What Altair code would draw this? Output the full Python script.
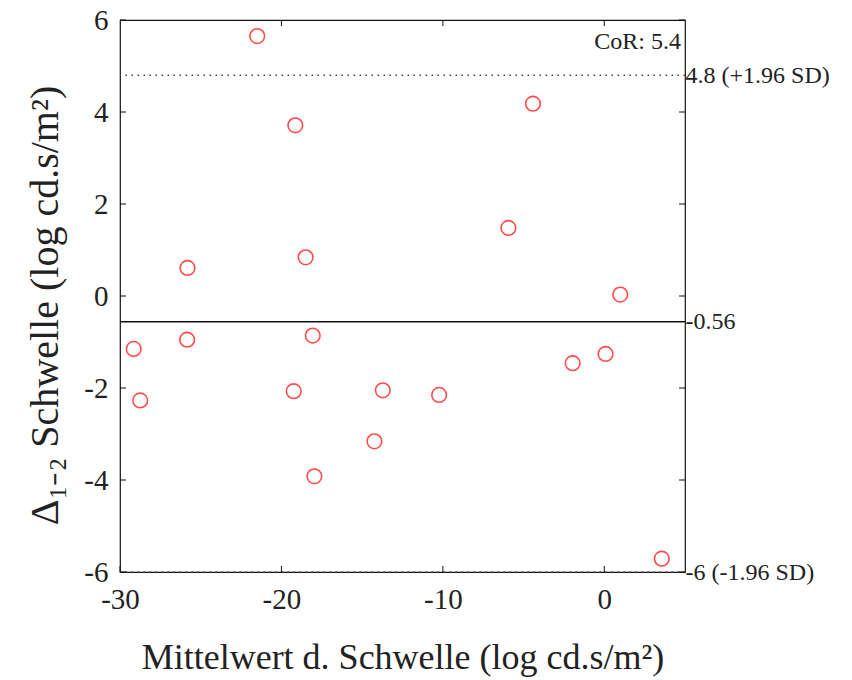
import altair as alt
import pandas as pd

# ---- data ----
mean_x = [-21.5, -19.14, -4.42, -5.94, -25.82, -18.5, 0.99, -29.15, -25.84, -18.06,
          -28.75, -19.24, -13.72, -10.23, -14.24, -17.96, -1.96, 0.08, 3.56]
diff_y = [5.65, 3.71, 4.18, 1.48, 0.61, 0.84, 0.03, -1.15, -0.95, -0.86,
          -2.27, -2.07, -2.05, -2.15, -3.16, -3.92, -1.46, -1.26, -5.71]
mean_diff = [-0.56]
loa_values = [4.8, -6.0]
right_ticks = [4.8, -0.56, -6.0]
right_labels = ["4.8 (+1.96 SD)", "-0.56", "-6 (-1.96 SD)"]
x_ticks = [-30, -20, -10, 0]
x_top_ticks = [-20, -10, 0]
y_ticks = [-6, -4, -2, 0, 2, 4, 6]
x_domain = [-30, 5]
y_domain = [-6, 6]
cor_label = ["CoR: 5.4"]
x_title = "Mittelwert d. Schwelle (log cd.s/m²)"
y_title = "Δ₁₋₂ Schwelle (log cd.s/m²)"

W, H = 565, 552
FONT = "'Liberation Serif', 'Times New Roman', serif"
TXT = "#222222"

pts = pd.DataFrame({"x": mean_x, "y": diff_y})
mean_df = pd.DataFrame({"y": mean_diff})
loa_df = pd.DataFrame({"y": loa_values})
right_df = pd.DataFrame({"y": right_ticks})
xt_df = pd.DataFrame({"x": x_ticks})
xtt_df = pd.DataFrame({"x": x_top_ticks})
yt_df = pd.DataFrame({"y": y_ticks})
cor_df = pd.DataFrame({"x": [x_domain[1]], "y": [y_domain[1]], "t": cor_label})

xs = alt.Scale(domain=x_domain, nice=False, zero=False)
ys = alt.Scale(domain=y_domain, nice=False, zero=False)

label_expr = " : ".join(
    f"abs(datum.value - ({v})) < 1e-6 ? '{l}'" for v, l in zip(right_ticks, right_labels)
) + " : ''"

points = alt.Chart(pts).mark_point(
    shape="circle", filled=False, color="#ff0000", size=215, strokeWidth=1.6
).encode(
    x=alt.X("x:Q", scale=xs, axis=alt.Axis(
        values=x_ticks, title=x_title, labelFontSize=29, titleFontSize=36,
        labelPadding=13, titleY=96, titleBaseline="alphabetic",
        labelExpr="'' + datum.value", labelFlush=False,
        labelFont=FONT, titleFont=FONT, titleFontWeight="normal",
        labelColor=TXT, titleColor=TXT, ticks=False, domain=False, grid=False)),
    y=alt.Y("y:Q", scale=ys, axis=alt.Axis(
        values=y_ticks, title=y_title, labelFontSize=29, titleFontSize=40,
        labelPadding=12, titleX=-63, titleY=H / 2 + 9, titleBaseline="alphabetic",
        titleAngle=270, labelExpr="'' + datum.value", labelFlush=False,
        labelFont=FONT, titleFont=FONT, titleFontWeight="normal",
        labelColor=TXT, titleColor=TXT, ticks=False, domain=False, grid=False)),
)

mean_line = alt.Chart(mean_df).mark_rule(color="#111111", strokeWidth=1.5).encode(
    y=alt.Y("y:Q", scale=ys, axis=None)
)

loa_lines = alt.Chart(loa_df).mark_rule(
    color="#444444", strokeWidth=1.5, strokeDash=[1.5, 4.5]
).encode(y=alt.Y("y:Q", scale=ys, axis=None))

right_axis = alt.Chart(right_df).mark_rule(opacity=0).encode(
    y=alt.Y("y:Q", scale=ys, axis=alt.Axis(
        orient="right", values=right_ticks, labelExpr=label_expr, title=None,
        labelFontSize=24, labelFont=FONT, labelColor=TXT, labelPadding=0,
        ticks=False, domain=False, grid=False, labelOverlap=False, labelFlush=False))
)

bottom_ticks = alt.Chart(xt_df).mark_rule(color="#111111", strokeWidth=1).encode(
    x=alt.X("x:Q", scale=xs, axis=None), y=alt.value(H), y2=alt.value(H - 6)
)
top_ticks = alt.Chart(xtt_df).mark_rule(color="#111111", strokeWidth=1).encode(
    x=alt.X("x:Q", scale=xs, axis=None), y=alt.value(0), y2=alt.value(6)
)
left_ticks = alt.Chart(yt_df).mark_rule(color="#111111", strokeWidth=1).encode(
    y=alt.Y("y:Q", scale=ys, axis=None), x=alt.value(0), x2=alt.value(6)
)
right_ticks_l = alt.Chart(yt_df).mark_rule(color="#111111", strokeWidth=1).encode(
    y=alt.Y("y:Q", scale=ys, axis=None), x=alt.value(W), x2=alt.value(W - 6)
)

cor = alt.Chart(cor_df).mark_text(
    align="right", baseline="alphabetic", dx=-4, dy=29, fontSize=24, font=FONT, color=TXT
).encode(
    x=alt.X("x:Q", scale=xs, axis=None),
    y=alt.Y("y:Q", scale=ys, axis=None),
    text="t:N",
)

chart = alt.layer(
    loa_lines, mean_line, right_axis, bottom_ticks, top_ticks, left_ticks,
    right_ticks_l, cor, points
).resolve_scale(y="independent").resolve_axis(x="independent").properties(
    width=W, height=H,
    autosize=alt.AutoSizeParams(type="none"),
    padding={"left": 120, "top": 20, "right": 167, "bottom": 108},
    background="white",
).configure_view(stroke="#111111", strokeWidth=1.2)

chart.save("out.html", embed_options={"renderer": "svg", "actions": False})
